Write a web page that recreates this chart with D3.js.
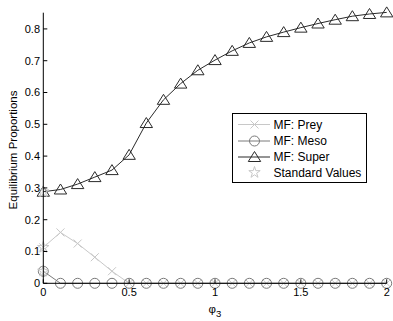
<!DOCTYPE html>
<html>
<head>
<meta charset="utf-8">
<script src="https://cdn.jsdelivr.net/npm/d3@7"></script>
<style>
  html, body { margin: 0; padding: 0; background: #fff; }
  svg { display: block; }
  text { font-family: "Liberation Sans", Arial, sans-serif; }
</style>
</head>
<body>
<svg id="chart" width="393" height="321"></svg>
<script>
// ---- data ----
const phi = [0, 0.1, 0.2, 0.3, 0.4, 0.5, 0.6, 0.7, 0.8, 0.9, 1.0, 1.1, 1.2, 1.3, 1.4, 1.5, 1.6, 1.7, 1.8, 1.9, 2.0];
const prey = [0.113, 0.160, 0.125, 0.082, 0.038, 0, 0, 0, 0, 0, 0, 0, 0, 0, 0, 0, 0, 0, 0, 0, 0];
const meso = [0.038, 0, 0, 0, 0, 0, 0, 0, 0, 0, 0, 0, 0, 0, 0, 0, 0, 0, 0, 0, 0];
const superP = [0.288, 0.295, 0.312, 0.334, 0.356, 0.404, 0.504, 0.577, 0.628, 0.670, 0.702, 0.731, 0.756, 0.775, 0.790, 0.804, 0.817, 0.829, 0.840, 0.847, 0.852];
const stdPhi = [0, 0, 0];
const stdValues = [0.288, 0.113, 0.038];
const xTicks = [0, 0.5, 1, 1.5, 2];
const xTickLabels = ["0", "0.5", "1", "1.5", "2"];
const yTicks = [0, 0.1, 0.2, 0.3, 0.4, 0.5, 0.6, 0.7, 0.8];
const yTickLabels = ["0", "0.1", "0.2", "0.3", "0.4", "0.5", "0.6", "0.7", "0.8"];
const legendLabels = ["MF: Prey", "MF: Meso", "MF: Super", "Standard Values"];

// ---- layout ----
const svg = d3.select("#chart");
const x = d3.scaleLinear().domain([0, 2]).range([43.3, 386.7]);
const y = d3.scaleLinear().domain([0, 0.851]).range([283.3, 12.7]);

const cPrey = "#c8c8c8", cMeso = "#7a7a7a", cSuper = "#2a2a2a", cStd = "#c8c8c8";

// markers
function triPath(s) {
  return `M0,${-5.5*s}L${6.2*s},${4.5*s}L${-6.2*s},${4.5*s}Z`;
}
function xPath(s) { return `M${-4*s},${-4*s}L${4*s},${4*s}M${-4*s},${4*s}L${4*s},${-4*s}`; }
const starPath = d3.symbol().type(d3.symbolStar).size(40)();

const g = svg.append("g");

// prey
g.append("path").datum(phi.map((p, i) => [p, prey[i]]))
  .attr("d", d3.line().x(d => x(d[0])).y(d => y(d[1])))
  .attr("fill", "none").attr("stroke", cPrey).attr("stroke-width", 1);
g.selectAll(".mprey").data(phi.map((p, i) => [p, prey[i]])).join("path")
  .attr("transform", d => `translate(${x(d[0])},${y(d[1])})`)
  .attr("d", xPath(1)).attr("fill", "none").attr("stroke", cPrey).attr("stroke-width", 1);

// meso
g.append("path").datum(phi.map((p, i) => [p, meso[i]]))
  .attr("d", d3.line().x(d => x(d[0])).y(d => y(d[1])))
  .attr("fill", "none").attr("stroke", cMeso).attr("stroke-width", 1);
g.selectAll(".mmeso").data(phi.map((p, i) => [p, meso[i]])).join("circle")
  .attr("cx", d => x(d[0])).attr("cy", d => y(d[1])).attr("r", 5)
  .attr("fill", "none").attr("stroke", cMeso).attr("stroke-width", 1);

// super
g.append("path").datum(phi.map((p, i) => [p, superP[i]]))
  .attr("d", d3.line().x(d => x(d[0])).y(d => y(d[1])))
  .attr("fill", "none").attr("stroke", cSuper).attr("stroke-width", 1);
g.selectAll(".msuper").data(phi.map((p, i) => [p, superP[i]])).join("path")
  .attr("transform", d => `translate(${x(d[0])},${y(d[1])})`)
  .attr("d", triPath(1)).attr("fill", "none").attr("stroke", cSuper).attr("stroke-width", 1);

// standard values
g.selectAll(".mstd").data(stdPhi.map((p, i) => [p, stdValues[i]])).join("path")
  .attr("transform", d => `translate(${x(d[0])},${y(d[1])})`)
  .attr("d", starPath).attr("fill", "none").attr("stroke", cStd).attr("stroke-width", 1);

// axes
const axes = svg.append("g");
axes.append("line").attr("x1", x(0)).attr("x2", x(0)).attr("y1", y.range()[1]).attr("y2", y(0))
  .attr("stroke", "#000").attr("stroke-width", 1);
axes.append("line").attr("x1", x(0)).attr("x2", x(2)).attr("y1", y(0)).attr("y2", y(0))
  .attr("stroke", "#000").attr("stroke-width", 1);
yTicks.forEach((t, i) => {
  axes.append("line").attr("x1", x(0)).attr("x2", x(0) + 4).attr("y1", y(t)).attr("y2", y(t))
    .attr("stroke", "#000");
  axes.append("text").attr("x", 40).attr("y", y(t)).attr("dy", "0.35em")
    .attr("text-anchor", "end").attr("font-size", 11).attr("fill", "#000").text(yTickLabels[i]);
});
xTicks.forEach((t, i) => {
  axes.append("line").attr("x1", x(t)).attr("x2", x(t)).attr("y1", y(0)).attr("y2", y(0) - 4)
    .attr("stroke", "#000");
  axes.append("text").attr("x", x(t)).attr("y", 296)
    .attr("text-anchor", "middle").attr("font-size", 11).attr("fill", "#000").text(xTickLabels[i]);
});

// axis labels
const xl = svg.append("text").attr("x", 215).attr("y", 313).attr("text-anchor", "middle")
  .attr("font-size", 11.5).attr("fill", "#000");
xl.append("tspan").text("φ");
xl.append("tspan").attr("dy", 4).attr("font-size", 9.5).text("3");
svg.append("text").attr("transform", `translate(17,150) rotate(-90)`)
  .attr("text-anchor", "middle").attr("font-size", 11.5).attr("fill", "#000")
  .text("Equilibrium Proportions");

// legend
const lg = svg.append("g");
lg.append("rect").attr("x", 232.5).attr("y", 113.5).attr("width", 134).attr("height", 69)
  .attr("fill", "#fff").attr("stroke", "#000").attr("stroke-width", 1);
const rows = [124.5, 141, 157, 172.5];
const lcols = [cPrey, cMeso, cSuper, cStd];
rows.forEach((ry, i) => {
  if (i < 3) {
    lg.append("line").attr("x1", 238).attr("x2", 270).attr("y1", ry).attr("y2", ry)
      .attr("stroke", lcols[i]).attr("stroke-width", 1);
  }
  const mk = lg.append(i === 1 ? "circle" : "path");
  if (i === 1) mk.attr("cx", 254.5).attr("cy", ry).attr("r", 5);
  else mk.attr("transform", `translate(254.5,${ry})`).attr("d", i === 0 ? xPath(1) : i === 2 ? triPath(1) : starPath);
  mk.attr("fill", "none").attr("stroke", lcols[i]).attr("stroke-width", 1);
  lg.append("text").attr("x", 273.5).attr("y", ry).attr("dy", "0.35em")
    .attr("font-size", 12).attr("fill", "#000").text(legendLabels[i]);
});
</script>
</body>
</html>
